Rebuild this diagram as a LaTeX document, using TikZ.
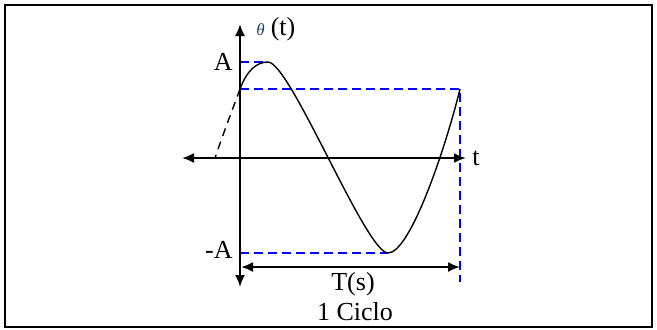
\documentclass[tikz,border=0pt]{standalone}
\usepackage{fontspec}
\setmainfont{Liberation Serif}
\usetikzlibrary{arrows.meta}
\definecolor{thetacol}{RGB}{40,60,110}
\begin{document}
\begin{tikzpicture}[x=0.5pt,y=-0.5pt,
  axis/.style={line width=1pt, {Latex[length=6pt,width=5pt]}-{Latex[length=6pt,width=5pt]}},
  guide/.style={blue, line width=0.9pt, dash pattern=on 4.5pt off 2.5pt},
  wave/.style={line width=0.7pt},
  lbl/.style={font=\fontsize{13}{15}\selectfont, inner sep=0pt}]
\useasboundingbox (0,0) rectangle (657,329);
\draw[line width=1pt] (5,5) rectangle (652,327);
% key points
\coordinate (yt) at (240,24);
\coordinate (yb) at (240,287);
\coordinate (xl) at (182,158);
\coordinate (xr) at (466,158);
\coordinate (p0) at (240,89);
\coordinate (pk) at (268,62);
\coordinate (mn) at (388,253);
\coordinate (pe) at (460,89);
\coordinate (ps) at (215,158);
\coordinate (gb) at (460,282);
\coordinate (tl) at (241,267);
\coordinate (tr) at (460,267);
% guides
\draw[guide] (pk -| yt) -- (pk);
\draw[guide] (p0) -- (pe) -- (gb);
\draw[guide] (mn -| yt) -- (mn);
% axes
\draw[axis] (xl) -- (xr);
\draw[axis] (yb) -- (yt);
\draw[axis] (tl) -- (tr);
% curve
\draw[wave] (p0) .. controls (247,70) and (257,62) .. (pk)
  .. controls (290,62) and (366,253) .. (mn)
  .. controls (410,253) and (445,150) .. (pe);
\draw[wave, dash pattern=on 4pt off 3pt] (p0) .. controls (232,111) and (223,134) .. (ps);
% labels
\node[lbl, anchor=base east] (lA) at (233,70) {A};
\node[lbl, anchor=base east] (lmA) at (233,258) {-A};
\node[lbl, anchor=base west] (lt) at (472,165) {t};
\node[lbl, anchor=base] (lT) at (353,290) {T(s)};
\node[lbl, anchor=base] (lc) at (355,320) {1 Ciclo};
\node[inner sep=0pt, anchor=base west] (lth) at (256,35) {{\fontsize{8.5}{9}\selectfont\itshape\color{thetacol}θ}\hspace{3pt}{\fontsize{13}{15}\selectfont(t)}};
\end{tikzpicture}
\end{document}
